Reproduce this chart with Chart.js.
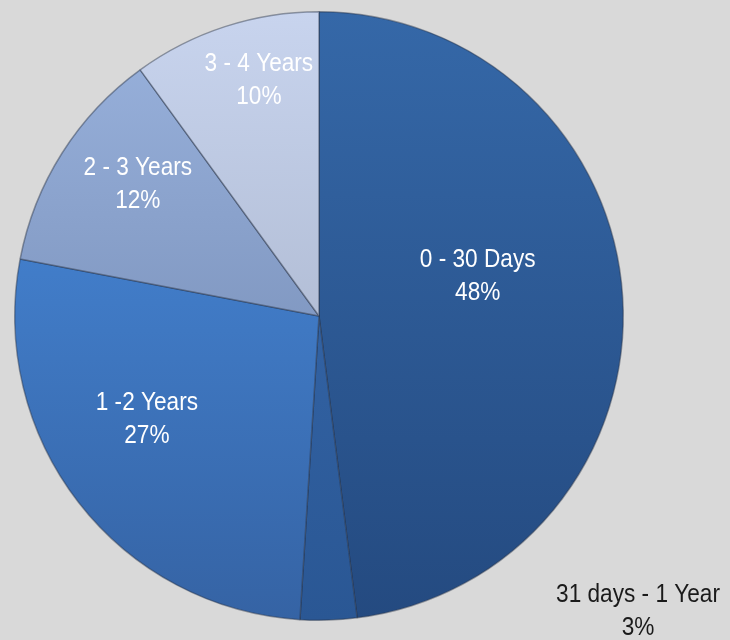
<!DOCTYPE html>
<html>
<head>
<meta charset="utf-8">
<script src="https://cdn.jsdelivr.net/npm/chart.js@4.4.1/dist/chart.umd.min.js"></script>
<style>
  html, body { margin: 0; padding: 0; background: #d9d9d9; }
  #wrap { width: 730px; height: 640px; }
</style>
</head>
<body>
<div id="wrap"><canvas id="ageChart" width="730" height="640"></canvas></div>
<script>
// Data
const categories = ['0 - 30 Days', '31 days - 1 Year', '1 -2 Years', '2 - 3 Years', '3 - 4 Years'];
const shares = [48, 3, 27, 12, 10];

// Slice shading (top -> bottom of the pie)
const topColors = ['#3568a8', '#3a6db2', '#4a8fe3', '#9ab3de', '#c8d4ee'];
const bottomColors = ['#244a80', '#2a5794', '#3563a4', '#6a80a8', '#9ea9bf'];

// Label placement: fraction of radius, angle shift (deg), text colour
const labelRadius = [0.538, 1.429, 0.66, 0.736, 0.8];
const labelShift = [-10.6, -45.4, 6.8, 3.6, 3.7];
const labelColors = ['#ffffff', '#1a1a1a', '#ffffff', '#ffffff', '#ffffff'];

const FONT = "26px 'Liberation Sans Narrow', 'Liberation Sans', Arial, sans-serif";
const SQUEEZE = 0.87; // Excel label font is a narrow face
const LINE_GAP = 33;

function sliceFill(context) {
  const chart = context.chart;
  const area = chart.chartArea;
  const i = context.dataIndex;
  if (!area) return topColors[i];
  const g = chart.ctx.createLinearGradient(0, area.top, 0, area.bottom);
  g.addColorStop(0, topColors[i]);
  g.addColorStop(1, bottomColors[i]);
  return g;
}

// Draw "name / percent" labels
const sliceLabels = {
  id: 'sliceLabels',
  afterDatasetsDraw(chart) {
    const ctx = chart.ctx;
    const meta = chart.getDatasetMeta(0);
    meta.data.forEach((arc, i) => {
      const p = arc.getProps(['x', 'y', 'startAngle', 'endAngle', 'outerRadius'], true);
      const mid = (p.startAngle + p.endAngle) / 2 + labelShift[i] * Math.PI / 180;
      const r = p.outerRadius * labelRadius[i];
      const x = p.x + Math.cos(mid) * r;
      const y = p.y + Math.sin(mid) * r;
      ctx.save();
      ctx.translate(x, y);
      ctx.scale(SQUEEZE, 1);
      ctx.font = FONT;
      ctx.textAlign = 'center';
      ctx.textBaseline = 'middle';
      ctx.fillStyle = labelColors[i];
      ctx.fillText(categories[i], 0, -LINE_GAP / 2);
      ctx.fillText(shares[i] + '%', 0, LINE_GAP / 2);
      ctx.restore();
    });
  }
};

document.addEventListener('DOMContentLoaded', function() {
  const ctx = document.getElementById('ageChart').getContext('2d');
  new Chart(ctx, {
    type: 'pie',
    data: {
      labels: categories,
      datasets: [{
        data: shares,
        backgroundColor: sliceFill,
        borderColor: 'rgba(40, 50, 70, 0.45)',
        borderWidth: 1.5
      }]
    },
    options: {
      responsive: false,
      animation: false,
      devicePixelRatio: 1,
      layout: { padding: { left: 14, right: 106, top: 11, bottom: 19 } },
      plugins: {
        legend: { display: false },
        tooltip: { enabled: false }
      }
    },
    plugins: [sliceLabels]
  });
});
</script>
</body>
</html>
